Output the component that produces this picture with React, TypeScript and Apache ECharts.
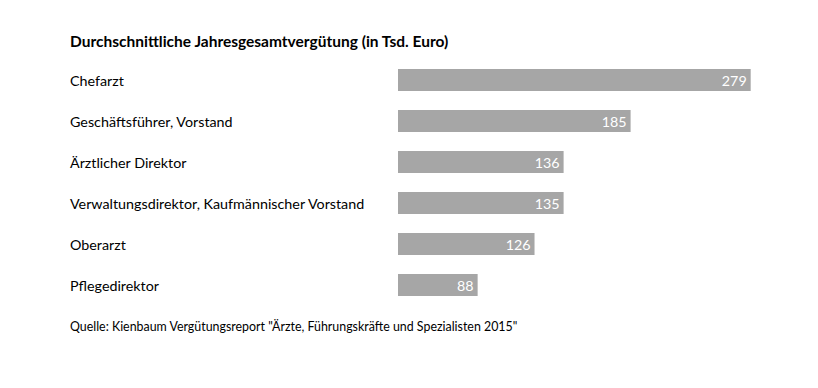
import React, { useEffect, useRef } from "react";
import * as echarts from "echarts";

const categories = [
  "Chefarzt",
  "Geschäftsführer, Vorstand",
  "Ärztlicher Direktor",
  "Verwaltungsdirektor, Kaufmännischer Vorstand",
  "Oberarzt",
  "Pflegedirektor",
];
// Values printed on the bars (Tsd. Euro)
const values = [279, 185, 136, 135, 126, 88];
// Bar lengths as drawn in the reference (same unit)
const barLengths = [279, 184, 131, 131, 108, 63];

const title = "Durchschnittliche Jahresgesamtvergütung (in Tsd. Euro)";
const source =
  'Quelle: Kienbaum Vergütungsreport "Ärzte, Führungskräfte und Spezialisten 2015"';

const FONT = "Lato, 'Open Sans', sans-serif";

export default function App() {
  const ref = useRef<HTMLDivElement>(null);
  useEffect(() => {
    if (!ref.current) return;
    const chart = echarts.init(ref.current, undefined, { renderer: "svg" });
    chart.setOption({
      animation: false,
      backgroundColor: "#ffffff",
      textStyle: { fontFamily: FONT },
      title: {
        text: title,
        left: 65,
        top: 28,
        textStyle: {
          fontFamily: FONT,
          fontSize: 15.5,
          fontWeight: "bold",
          color: "#000000",
        },
      },
      graphic: [
        {
          type: "text",
          left: 70,
          top: 320,
          style: {
            text: source,
            fontFamily: FONT,
            fontSize: 12.4,
            fill: "#000000",
          },
        },
      ],
      grid: { left: 398, right: 67.3, top: 59.5, bottom: 82.5 },
      xAxis: {
        type: "value",
        min: 0,
        max: 279,
        show: false,
      },
      yAxis: {
        type: "category",
        data: categories,
        inverse: true,
        axisLine: { show: false },
        axisTick: { show: false },
        splitLine: { show: false },
        axisLabel: {
          align: "left",
          margin: 328,
          fontFamily: FONT,
          fontSize: 14.3,
          color: "#000000",
        },
      },
      series: [
        {
          type: "bar",
          data: barLengths.map((v, i) => ({ value: v, label: values[i] })),
          barWidth: 22,
          itemStyle: { color: "#a6a6a6" },
          label: {
            show: true,
            position: "insideRight",
            distance: 4,
            color: "#ffffff",
            fontFamily: FONT,
            fontSize: 14.3,
            formatter: (p: any) => String(values[p.dataIndex]),
          },
        },
      ],
    });
    return () => chart.dispose();
  }, []);
  return (
    <div
      ref={ref}
      style={{ position: "fixed", left: 0, top: 0, width: 818, height: 388 }}
    />
  );
}
